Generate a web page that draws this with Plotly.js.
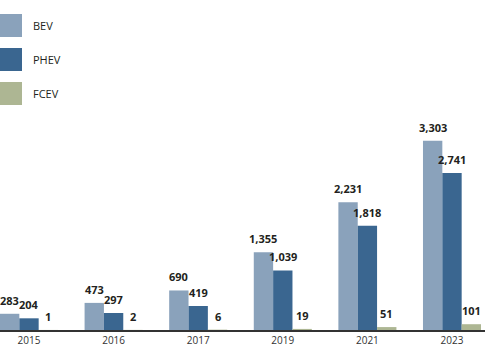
<!DOCTYPE html>
<html>
<head>
<meta charset="utf-8">
<script src="https://cdn.plot.ly/plotly-3.0.1.min.js"></script>
<style>
  html, body { margin: 0; padding: 0; background: #ffffff; }
  #chart { width: 485px; height: 360px; }
</style>
</head>
<body>
<div id="chart"></div>
<script>
// ---- Data ----
const years = ['2015', '2016', '2017', '2019', '2021', '2023'];
const bevValues = [283, 473, 690, 1355, 2231, 3303];
const phevValues = [204, 297, 419, 1039, 1818, 2741];
const fcevValues = [1, 2, 6, 19, 51, 101];
const seriesNames = ['BEV', 'PHEV', 'FCEV'];

// ---- Styles ----
const colors = ['#8aa2bb', '#3a6690', '#adb693'];
const fontFamily = '"Open Sans", "Liberation Sans", sans-serif';
const W = 485, H = 360, MB = 30;
const plotH = H - MB;
const catStep = 84.6;        // px per category
const bargap = 0.314;
const barFrac = (1 - bargap) / 3;   // width of one bar in category units

const seriesValues = [bevValues, phevValues, fcevValues];
const fmt = v => v.toLocaleString('en-US');

const traces = seriesValues.map((vals, i) => ({
  type: 'bar',
  name: seriesNames[i],
  x: years,
  y: vals,
  marker: { color: colors[i], line: { width: 0 } },
  hoverinfo: 'x+y+name',
  showlegend: false
}));

const shapes = [];
const annotations = [];

// Value labels above bars (x as category index + group offset)
seriesValues.forEach((vals, i) => {
  vals.forEach((v, j) => {
    annotations.push({
      xref: 'x', yref: 'y', x: j + (i - 1) * barFrac, y: v,
      yshift: 4,
      xanchor: 'center', yanchor: 'bottom', showarrow: false,
      text: '<b>' + fmt(v) + '</b>',
      font: { family: fontFamily, size: 11, color: '#231f20' }
    });
  });
});

// Custom legend (large square swatches)
const swTop = 14, swSize = 23, swStep = 34;
seriesNames.forEach((name, i) => {
  const top = swTop + i * swStep;
  shapes.push({
    type: 'rect', xref: 'paper', yref: 'paper',
    x0: -2 / W, x1: 22 / W,
    y0: 1 - (top + swSize) / plotH, y1: 1 - top / plotH,
    fillcolor: colors[i], line: { width: 0 }, layer: 'above'
  });
  annotations.push({
    xref: 'paper', yref: 'paper',
    x: 31 / W, y: 1 - (top + swSize / 2) / plotH,
    xanchor: 'left', yanchor: 'middle', showarrow: false,
    text: name,
    font: { family: fontFamily, size: 11, color: '#231f20' }
  });
});

const pxPerUnit = 189.3 / 3303;

const layout = {
  width: W, height: H,
  margin: { l: 0, r: 0, t: 0, b: MB, pad: 0 },
  paper_bgcolor: '#ffffff',
  plot_bgcolor: '#ffffff',
  barmode: 'group',
  bargap: bargap,
  bargroupgap: 0,
  showlegend: false,
  xaxis: {
    type: 'category',
    range: [-29 / catStep, (W - 29) / catStep],
    showline: true, linecolor: '#333333', linewidth: 1.5,
    ticks: '', showgrid: false, zeroline: false,
    tickfont: { family: fontFamily, size: 10, color: '#333333' },
    fixedrange: true
  },
  yaxis: {
    range: [0, plotH / pxPerUnit],
    visible: false, showgrid: false, zeroline: false,
    fixedrange: true
  },
  shapes: shapes,
  annotations: annotations
};

Plotly.newPlot('chart', traces, layout, { displayModeBar: false, staticPlot: true });
</script>
</body>
</html>
